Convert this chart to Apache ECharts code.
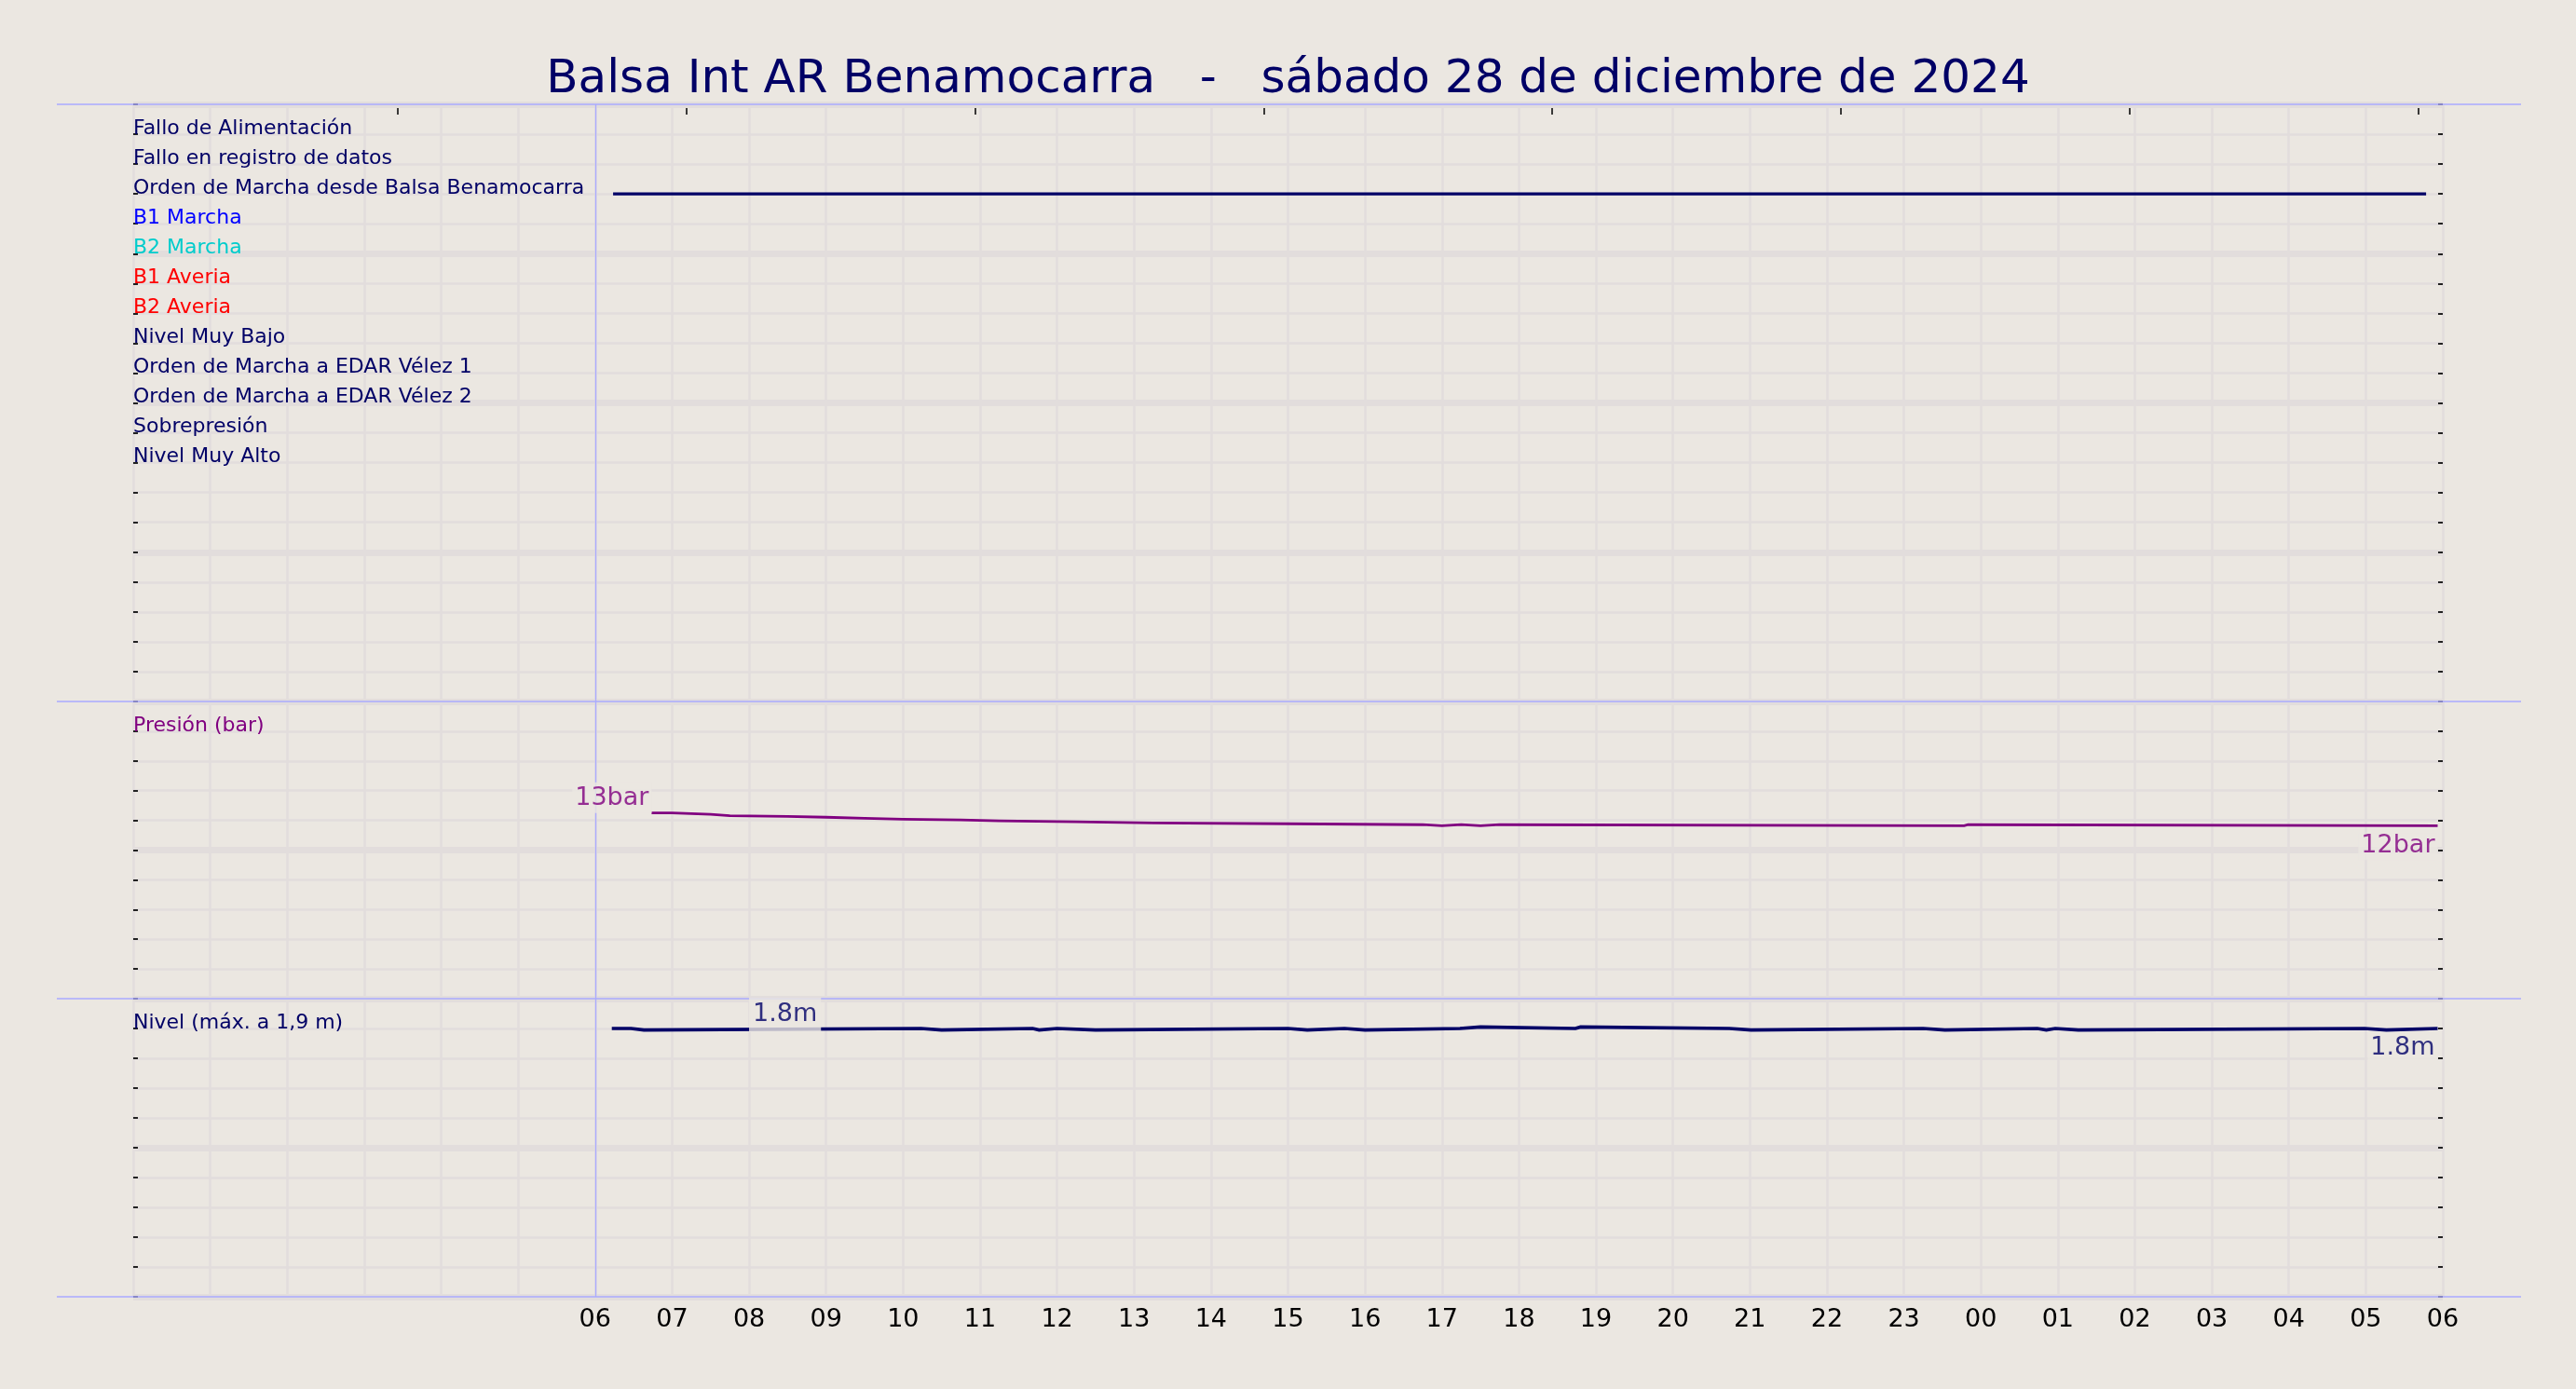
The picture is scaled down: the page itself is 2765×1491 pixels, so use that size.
<!DOCTYPE html>
<html><head><meta charset="utf-8">
<script src="https://cdn.jsdelivr.net/npm/echarts@6/dist/echarts.min.js"></script>
<style>html,body{margin:0;padding:0;background:#EBE7E1}#c{width:2765px;height:1491px}</style>
</head><body><div id="c"></div>
<script>
// ---------- data ----------
const titleText = 'Balsa Int AR Benamocarra   -   sábado 28 de diciembre de 2024';

const statusLabels = [
  'Fallo de Alimentación',
  'Fallo en registro de datos',
  'Orden de Marcha desde Balsa Benamocarra',
  'B1 Marcha',
  'B2 Marcha',
  'B1 Averia',
  'B2 Averia',
  'Nivel Muy Bajo',
  'Orden de Marcha a EDAR Vélez 1',
  'Orden de Marcha a EDAR Vélez 2',
  'Sobrepresión',
  'Nivel Muy Alto'
];
const statusColors = [
  '#000066', '#000066', '#000066', '#0000FF', '#00CCCC', '#FF0000',
  '#FF0000', '#000066', '#000066', '#000066', '#000066', '#000066'
];

// x axis: hours from 00:00 on the 28th to 06:00 on the 29th; labels from 06
const xTickLabels = ['06','07','08','09','10','11','12','13','14','15','16','17',
  '18','19','20','21','22','23','00','01','02','03','04','05','06'];
const topTickTimes = ['03:26','07:11','10:56','14:41','18:26','22:11','01:56','05:41'];
const startMarkerTime = '06:00';

// status: "Orden de Marcha desde Balsa Benamocarra" active interval
const ordenMarchaRow = 2;
const ordenMarchaTimes = ['06:14', '05:47'];

// pressure (bar), stepped
const pressureLabel = 'Presión (bar)';
const pressureTimes = ['06:44','07:00','07:30','07:45','08:30','09:00','09:30','10:00','10:45','11:15',
  '12:15','13:15','15:00','16:45','17:00','17:15','17:30','17:45','23:47','23:50','05:56'];
const pressureValues = [12.50,12.40,12.31,12.27,12.21,12.14,12.08,12.03,11.97,11.91,
  11.83,11.77,11.71,11.64,11.71,11.64,11.71,11.64,11.71,11.64,11.64];

// level (m), stepped
const levelLabel = 'Nivel (máx. a 1,9 m)';
const levelTimes = ['06:13','06:28','06:38','10:14','10:30','11:41','11:46','12:00','12:30','15:00',
  '15:15','15:44','16:00','17:14','17:30','18:44','18:48','20:44','21:01','23:15',
  '23:32','00:44','00:51','00:58','01:16','04:59','05:16','05:56'];
const levelValues = [1.80,1.79,1.80,1.79,1.80,1.79,1.80,1.79,1.80,1.79,
  1.80,1.79,1.80,1.81,1.80,1.81,1.80,1.79,1.80,1.79,
  1.80,1.79,1.80,1.79,1.80,1.79,1.80,1.80];
const levelPeakLabelTime = '08:28';

// ---------- helpers ----------
const NAVY = '#000066', PURPLE = '#800080', BG = '#EBE7E1', GRIDC = '#E2DDDC', SEP = '#AAAAFF';
const FONT = 'DejaVu Sans';

function hhmm(s) { const [h, m] = s.split(':').map(Number); return h + m / 60; }
function toHours(list) {
  let off = 0, prev = -1;
  return list.map(s => {
    let h = hhmm(s) + off;
    if (h < prev) { off += 24; h += 24; }
    prev = h;
    return h;
  });
}
const topTickHours = toHours(topTickTimes);
const startMarkerHour = hhmm(startMarkerTime);
const ordenHours = toHours(ordenMarchaTimes);
const pressureHours = toHours(pressureTimes);
const levelHours = toHours(levelTimes);
const levelPeakHour = toHours([levelPeakLabelTime])[0];
function valueAt(hours, values, h) {
  let v = values[0];
  for (let i = 0; i < hours.length; i++) { if (hours[i] <= h) v = values[i]; }
  return v;
}

const grids = [
  { left: 143, right: 143, top: 112, height: 641 },
  { left: 143, right: 143, top: 753, height: 319 },
  { left: 143, right: 143, top: 1072, height: 320 }
];
const sepYs = [grids[0].top, grids[1].top, grids[2].top, grids[2].top + grids[2].height];

function hourAxis(gi, showLabels) {
  return {
    type: 'value', gridIndex: gi, min: 0, max: 30, interval: 1, position: 'bottom',
    axisLine: { show: false, onZero: false }, axisTick: { show: false },
    axisLabel: {
      show: showLabels, margin: 11, fontSize: 27, lineHeight: 27, color: '#000', fontFamily: FONT,
      formatter: v => (v >= 6 ? xTickLabels[Math.round(v) - 6] : '')
    },
    splitLine: { show: true, lineStyle: { color: GRIDC, width: 2.5 } }
  };
}
function rowAxes(gi, max, step, formatter, colorFn) {
  return [
    {
      type: 'value', gridIndex: gi, min: 0, max: max, interval: step, position: 'left',
      axisLine: { show: false, onZero: false },
      axisTick: { show: true, inside: true, length: 5, lineStyle: { color: '#222', width: 2 } },
      axisLabel: {
        show: true, inside: true, margin: 0, fontSize: 22, lineHeight: 12, fontFamily: FONT,
        verticalAlign: 'bottom', align: 'left', formatter: formatter, color: colorFn
      },
      splitLine: { show: true, lineStyle: { color: GRIDC, width: 2.5 } }
    },
    {
      type: 'value', gridIndex: gi, min: 0, max: max, interval: step, position: 'right',
      axisLine: { show: false, onZero: false },
      axisTick: { show: true, inside: true, length: 5, lineStyle: { color: '#222', width: 2 } },
      axisLabel: { show: false }, splitLine: { show: false }
    },
    {
      type: 'value', gridIndex: gi, min: 0, max: max, interval: step * 5, position: 'right',
      axisLine: { show: false, onZero: false }, axisTick: { show: false }, axisLabel: { show: false },
      splitLine: { show: true, lineStyle: { color: GRIDC, width: 7 } }
    }
  ];
}
const near = (a, b) => Math.abs(a - b) < 1e-6;

const statusAxes = rowAxes(0, 20, 1,
  v => { const i = 19 - Math.round(Number(v)); return (i >= 0 && i < statusLabels.length) ? statusLabels[i] : ''; },
  v => { const i = 19 - Math.round(Number(v)); return statusColors[i] || NAVY; });
const pressureAxes = rowAxes(1, 20, 2,
  v => (near(Number(v), 18) ? pressureLabel : ''), () => PURPLE);
const levelAxes = rowAxes(2, 2, 0.2,
  v => (near(Number(v), 1.8) ? levelLabel : ''), () => NAVY);

const vline = {
  silent: true, symbol: ['none', 'none'], label: { show: false }, animation: false,
  lineStyle: { color: SEP, width: 1.3, type: 'solid' },
  data: [{ xAxis: startMarkerHour }]
};
const annLabel = (color, extra) => Object.assign({
  show: true, position: 'inside', fontSize: 27, lineHeight: 27, fontFamily: FONT, color: color,
  backgroundColor: BG, padding: [3, 3, 4, 3]
}, extra);

const pN = pressureValues.length - 1, lN = levelValues.length - 1;
const levelPeakValue = valueAt(levelHours, levelValues, levelPeakHour);

const option = {
  backgroundColor: BG,
  animation: false,
  textStyle: { fontFamily: FONT },
  title: {
    text: titleText, left: 'center', top: 56,
    textStyle: { fontSize: 50, fontWeight: 'normal', color: NAVY, fontFamily: FONT, lineHeight: 50 }
  },
  grid: grids.map(g => Object.assign({ containLabel: false, outerBoundsMode: 'none' }, g)),
  xAxis: [
    hourAxis(0, false), hourAxis(1, false), hourAxis(2, true),
    {
      type: 'value', gridIndex: 0, position: 'top', min: 0, max: 30, offset: -4,
      axisLine: { show: false, onZero: false }, axisLabel: { show: false }, splitLine: { show: false },
      axisTick: { show: true, inside: true, length: 7, customValues: topTickHours,
        lineStyle: { color: '#000', width: 1.5 } }
    }
  ],
  yAxis: [].concat(statusAxes, pressureAxes, levelAxes),
  graphic: sepYs.map(y => ({
    type: 'line', z: 1, silent: true,
    shape: { x1: 61, y1: y, x2: 2706, y2: y },
    style: { stroke: SEP, lineWidth: 1.5 }
  })),
  series: [
    {
      type: 'line', name: statusLabels[ordenMarchaRow], xAxisIndex: 0, yAxisIndex: 0, silent: true,
      data: ordenHours.map(h => [h, 19 - ordenMarchaRow]), symbol: 'none',
      lineStyle: { color: statusColors[ordenMarchaRow], width: 3.3 }, itemStyle: { color: statusColors[ordenMarchaRow] },
      markLine: vline
    },
    {
      type: 'line', name: pressureLabel, step: 'end', xAxisIndex: 1, yAxisIndex: 3, silent: true,
      data: pressureHours.map((h, i) => [h, pressureValues[i]]), symbol: 'none',
      lineStyle: { color: PURPLE, width: 2.8, cap: 'butt', join: 'miter' }, itemStyle: { color: PURPLE },
      markLine: vline
    },
    {
      type: 'line', name: levelLabel, step: 'end', xAxisIndex: 2, yAxisIndex: 6, silent: true,
      data: levelHours.map((h, i) => [h, levelValues[i]]), symbol: 'none',
      lineStyle: { color: NAVY, width: 3.6, cap: 'butt', join: 'miter' }, itemStyle: { color: NAVY },
      markLine: vline
    },
    {
      type: 'scatter', xAxisIndex: 1, yAxisIndex: 3, z: 10, silent: true, symbolSize: 1,
      itemStyle: { color: 'rgba(0,0,0,0)' },
      data: [
        { value: [pressureHours[0], pressureValues[0]],
          label: annLabel(PURPLE, { formatter: Math.round(pressureValues[0]) + 'bar', align: 'right', verticalAlign: 'bottom', offset: [0, 0], padding: [4, 3, 2, 3] }) },
        { value: [pressureHours[pN], pressureValues[pN]],
          label: annLabel(PURPLE, { formatter: Math.round(pressureValues[pN]) + 'bar', align: 'right', verticalAlign: 'top', offset: [0, 8], padding: [0, 3, 2, 3] }) }
      ]
    },
    {
      type: 'scatter', xAxisIndex: 2, yAxisIndex: 6, z: 10, silent: true, symbolSize: 1,
      itemStyle: { color: 'rgba(0,0,0,0)' },
      data: [
        { value: [levelPeakHour, levelPeakValue],
          label: annLabel(NAVY, { formatter: levelPeakValue.toFixed(1) + 'm', align: 'center', verticalAlign: 'bottom', offset: [0, 4], padding: [4, 4, 6, 4] }) },
        { value: [levelHours[lN], levelValues[lN]],
          label: annLabel(NAVY, { formatter: levelValues[lN].toFixed(1) + 'm', align: 'right', verticalAlign: 'top', offset: [0, 7], padding: [0, 3, 2, 3] }) }
      ]
    }
  ]
};

const chart = echarts.init(document.getElementById('c'), null, { renderer: 'canvas' });
chart.setOption(option);
</script>
</body></html>
